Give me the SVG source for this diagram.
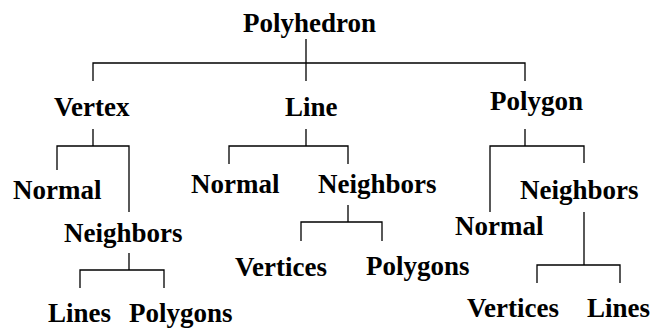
<svg xmlns="http://www.w3.org/2000/svg" width="652" height="329" viewBox="0 0 652 329">
<style>
text{font-family:'Liberation Serif','Tinos','DejaVu Serif',serif;font-weight:700;font-size:27px;fill:#000}
.c path{fill:none;stroke:#000;stroke-width:1.3}
</style>
<rect width="652" height="329" fill="#fff"/>
<g class="c" id="connectors">
<path d="M306 39V81M93 81V63H525V81"/>
<path d="M93 129V146M57 170V146H129V212"/>
<path d="M306 129V146M229 164V146H348V164"/>
<path d="M525 129V146M490 212V146H584V163"/>
<path d="M129 253V270M80 288V270H164V288"/>
<path d="M348 205V222M301 241V222H382V241"/>
<path d="M584 212V265M537 283V265H620V283"/>
</g>
<g id="polyhedron"><text x="243" y="32">Polyhedron</text></g>
<g id="vertex"><text x="54" y="116">Vertex</text></g>
<g id="line"><text x="285" y="116">Line</text></g>
<g id="polygon"><text x="490" y="110">Polygon</text></g>
<g id="vertex-normal"><text x="13" y="199">Normal</text></g>
<g id="vertex-neighbors"><text x="64" y="242">Neighbors</text></g>
<g id="vertex-lines"><text x="48" y="322">Lines</text></g>
<g id="vertex-polygons"><text x="129" y="322">Polygons</text></g>
<g id="line-normal"><text x="191" y="193">Normal</text></g>
<g id="line-neighbors"><text x="318" y="193">Neighbors</text></g>
<g id="line-vertices"><text x="235" y="276">Vertices</text></g>
<g id="line-polygons"><text x="366" y="275">Polygons</text></g>
<g id="polygon-normal"><text x="455" y="235">Normal</text></g>
<g id="polygon-neighbors"><text x="520" y="199">Neighbors</text></g>
<g id="polygon-vertices"><text x="467" y="317">Vertices</text></g>
<g id="polygon-lines"><text x="587" y="317">Lines</text></g>
</svg>
